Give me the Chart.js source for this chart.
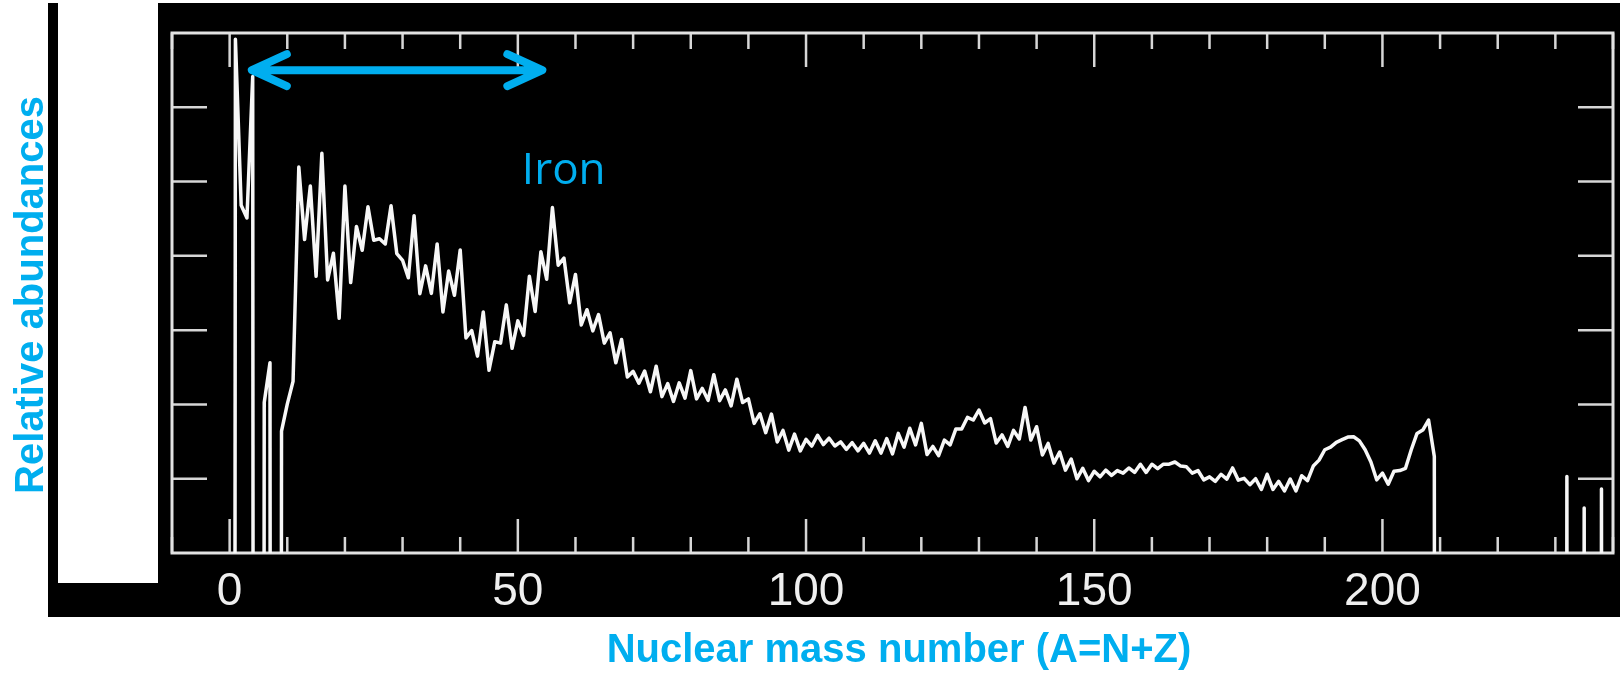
<!DOCTYPE html>
<html>
<head>
<meta charset="utf-8">
<title>Relative abundances</title>
<script src="https://cdn.jsdelivr.net/npm/chart.js@4.4.1/dist/chart.umd.min.js"></script>
<style>
  html, body { margin: 0; padding: 0; background: #fff; }
  body { width: 1620px; height: 673px; position: relative; overflow: hidden; }
  #fondo { position: absolute; left: 48px; top: 3px; width: 1572px; height: 614px; background: #000; }
  #hueco { position: absolute; left: 58px; top: 0; width: 100px; height: 583px; background: #fff; }
  #grafico { position: absolute; left: 0; top: 0; }
</style>
</head>
<body>
<div id="fondo"></div>
<div id="hueco"></div>
<canvas id="grafico" width="1620" height="673"></canvas>
<script>
// "no stable isobar" -> drop the line far below the frame
const OFF = -200;

// mass numbers A (0..210, then the Th / U spikes)
const massNumbers = [
  0, 1, 2, 3, 4, 5, 6, 7, 8, 9,
  10, 11, 12, 13, 14, 15, 16, 17, 18, 19,
  20, 21, 22, 23, 24, 25, 26, 27, 28, 29,
  30, 31, 32, 33, 34, 35, 36, 37, 38, 39,
  40, 41, 42, 43, 44, 45, 46, 47, 48, 49,
  50, 51, 52, 53, 54, 55, 56, 57, 58, 59,
  60, 61, 62, 63, 64, 65, 66, 67, 68, 69,
  70, 71, 72, 73, 74, 75, 76, 77, 78, 79,
  80, 81, 82, 83, 84, 85, 86, 87, 88, 89,
  90, 91, 92, 93, 94, 95, 96, 97, 98, 99,
  100, 101, 102, 103, 104, 105, 106, 107, 108, 109,
  110, 111, 112, 113, 114, 115, 116, 117, 118, 119,
  120, 121, 122, 123, 124, 125, 126, 127, 128, 129,
  130, 131, 132, 133, 134, 135, 136, 137, 138, 139,
  140, 141, 142, 143, 144, 145, 146, 147, 148, 149,
  150, 151, 152, 153, 154, 155, 156, 157, 158, 159,
  160, 161, 162, 163, 164, 165, 166, 167, 168, 169,
  170, 171, 172, 173, 174, 175, 176, 177, 178, 179,
  180, 181, 182, 183, 184, 185, 186, 187, 188, 189,
  190, 191, 192, 193, 194, 195, 196, 197, 198, 199,
  200, 201, 202, 203, 204, 205, 206, 207, 208, 209,
  210,
  231, 232, 233, 234, 235, 236, 237, 238, 239
];

// log10 of relative abundance
const logAbundance = [
  OFF, 9.83, 5.36, 5.02, 8.83, OFF, 0.05, 1.12, OFF, -0.72,
  0.01, 0.62, 6.39, 4.44, 5.88, 3.45, 6.76, 3.35, 4.07, 2.32,
  5.88, 3.28, 4.79, 4.15, 5.32, 4.42, 4.46, 4.32, 5.35, 4.06,
  3.88, 3.41, 5.08, 2.98, 3.73, 2.99, 4.32, 2.49, 3.59, 2.94,
  4.16, 1.79, 1.99, 1.30, 2.49, 0.92, 1.69, 1.65, 2.68, 1.51,
  2.25, 1.86, 3.45, 2.50, 4.11, 3.37, 5.30, 3.75, 3.94, 2.74,
  3.50, 2.14, 2.55, 1.98, 2.42, 1.65, 1.93, 1.12, 1.75, 0.74,
  0.89, 0.57, 0.90, 0.34, 1.03, 0.21, 0.56, 0.08, 0.58, 0.17,
  0.91, 0.15, 0.43, 0.11, 0.80, 0.10, 0.39, -0.04, 0.68, 0.05,
  0.15, -0.51, -0.25, -0.76, -0.26, -1.01, -0.70, -1.23, -0.80, -1.25,
  -0.94, -1.12, -0.83, -1.08, -0.91, -1.12, -1.01, -1.21, -1.03, -1.25,
  -1.05, -1.31, -0.98, -1.31, -0.92, -1.33, -0.78, -1.15, -0.64, -1.09,
  -0.51, -1.35, -1.13, -1.38, -0.96, -1.09, -0.66, -0.66, -0.35, -0.42,
  -0.15, -0.50, -0.38, -1.04, -0.82, -1.13, -0.70, -0.93, -0.08, -0.96,
  -0.60, -1.36, -1.05, -1.58, -1.28, -1.77, -1.47, -2.00, -1.72, -2.05,
  -1.80, -1.95, -1.77, -1.91, -1.78, -1.85, -1.71, -1.83, -1.61, -1.83,
  -1.61, -1.73, -1.61, -1.61, -1.55, -1.66, -1.68, -1.85, -1.78, -2.03,
  -1.95, -2.07, -1.88, -2.01, -1.71, -2.04, -1.99, -2.16, -2.00, -2.29,
  -1.88, -2.29, -2.07, -2.33, -2.01, -2.33, -1.92, -2.05, -1.66, -1.50,
  -1.22, -1.15, -1.02, -0.95, -0.88, -0.87, -0.98, -1.22, -1.55, -2.03,
  -1.85, -2.15, -1.80, -1.78, -1.72, -1.22, -0.78, -0.69, -0.42, -1.40,
  OFF,
  OFF, -1.94, OFF, OFF, -2.79, OFF, OFF, -2.28, OFF
];

// axes
const xLabels = [0, 50, 100, 150, 200];
const yTicks = [-2, 0, 2, 4, 6, 8];
const xMin = -10, xMax = 240, yMin = -4, yMax = 10;

const azul = "#00AEEF";

// marco, ticks hacia dentro, textos y flecha
const marcoPlugin = {
  id: "marco",
  beforeDatasetsDraw(chart) {
    const { ctx, chartArea: a, scales: { x, y } } = chart;
    const linea = (x1, y1, x2, y2) => { ctx.beginPath(); ctx.moveTo(x1, y1); ctx.lineTo(x2, y2); ctx.stroke(); };
    ctx.save();
    ctx.strokeStyle = "#d6d6d6";
    ctx.lineWidth = 2.5;
    for (let v = xMin; v <= xMax; v += 10) {
      const px = x.getPixelForValue(v);
      const largo = v % 50 === 0 ? 34 : 16;
      linea(px, a.bottom, px, a.bottom - largo);
      linea(px, a.top, px, a.top + largo);
    }
    yTicks.forEach(v => {
      const py = y.getPixelForValue(v);
      linea(a.left, py, a.left + 35, py);
      linea(a.right, py, a.right - 35, py);
    });
    ctx.lineWidth = 3;
    ctx.strokeStyle = "#e2e2e2";
    ctx.strokeRect(a.left, a.top, a.right - a.left, a.bottom - a.top);
    ctx.restore();
  },
  afterDraw(chart) {
    const { ctx, scales: { x, y } } = chart;
    ctx.save();

    // tick labels
    ctx.fillStyle = "#efefef";
    ctx.font = '46px "Liberation Sans", Arial, sans-serif';
    ctx.textAlign = "center";
    ctx.textBaseline = "alphabetic";
    xLabels.forEach(v => ctx.fillText(String(v), x.getPixelForValue(v), 605));

    // axis titles
    ctx.fillStyle = azul;
    ctx.font = 'bold 40px "Liberation Sans", Arial, sans-serif';
    ctx.fillText("Nuclear mass number (A=N+Z)", 899, 662);
    ctx.save();
    ctx.translate(43, 295);
    ctx.rotate(-Math.PI / 2);
    ctx.fillText("Relative abundances", 0, 0);
    ctx.restore();

    // double arrow over the light elements
    const x1 = x.getPixelForValue(3.5), x2 = x.getPixelForValue(54.6), yf = y.getPixelForValue(9.0);
    ctx.strokeStyle = azul;
    ctx.lineWidth = 8;
    ctx.lineCap = "round";
    ctx.lineJoin = "round";
    ctx.beginPath();
    ctx.moveTo(x1 + 4, yf); ctx.lineTo(x2 - 4, yf);
    ctx.moveTo(x1 + 37, yf - 16); ctx.lineTo(x1 + 2, yf); ctx.lineTo(x1 + 37, yf + 16);
    ctx.moveTo(x2 - 37, yf - 16); ctx.lineTo(x2 - 2, yf); ctx.lineTo(x2 - 37, yf + 16);
    ctx.stroke();

    // Iron label
    ctx.font = '44px "Open Sans", sans-serif';
    ctx.textAlign = "left";
    ctx.fillText("Iron", x.getPixelForValue(50.7), y.getPixelForValue(5.93));
    ctx.restore();
  }
};

new Chart(document.getElementById("grafico"), {
  type: "line",
  data: {
    datasets: [{
      data: massNumbers.map((a, i) => ({ x: a, y: logAbundance[i] })),
      borderColor: "#f7f7f7",
      borderWidth: 3.5,
      borderJoinStyle: "round",
      pointRadius: 0,
      tension: 0,
      fill: false
    }]
  },
  options: {
    responsive: false,
    devicePixelRatio: 1,
    animation: false,
    layout: { padding: { left: 172, right: 7, top: 33, bottom: 120 } },
    plugins: { legend: { display: false }, tooltip: { enabled: false } },
    scales: {
      x: { type: "linear", min: xMin, max: xMax, display: false },
      y: { type: "linear", min: yMin, max: yMax, display: false }
    }
  },
  plugins: [marcoPlugin]
});
</script>
</body>
</html>
